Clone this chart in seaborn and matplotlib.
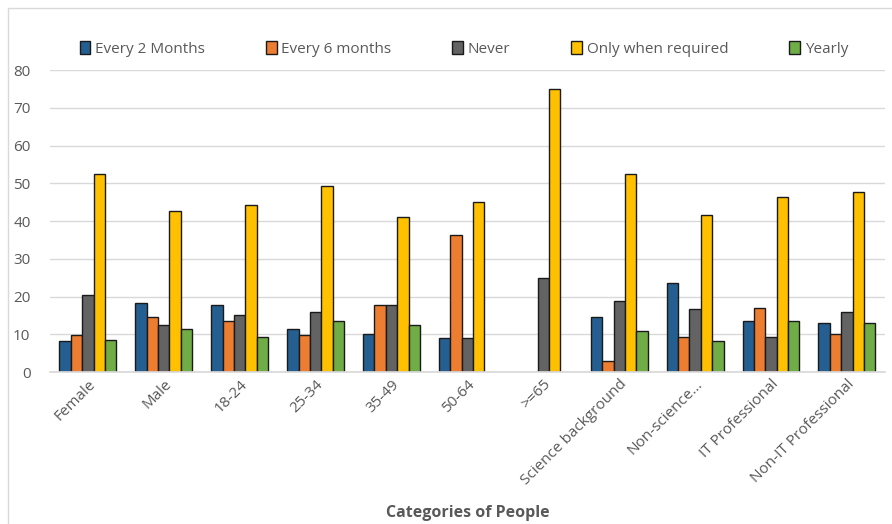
import numpy as np
import pandas as pd
import matplotlib
matplotlib.use("Agg")
import matplotlib.pyplot as plt
import seaborn as sns
from matplotlib.patches import Patch, Rectangle

categories = ["Female", "Male", "18-24", "25-34", "35-49", "50-64", ">=65",
              "Science background", "Non-science...", "IT Professional",
              "Non-IT Professional"]
series_names = ["Every 2 Months", "Every 6 months", "Never",
                "Only when required", "Yearly"]
every_2_months = [8.1, 18.2, 17.9, 11.4, 10.2, 9.0, None, 14.7, 23.6, 13.4, 13.0]
every_6_months = [9.8, 14.6, 13.4, 9.8, 17.9, 36.3, None, 2.8, 9.4, 17.1, 10.2]
never = [20.3, 12.6, 15.1, 15.9, 17.9, 9.0, 25.0, 18.7, 16.6, 9.4, 15.8]
only_when_required = [52.5, 42.8, 44.4, 49.3, 41.0, 45.2, 75.0, 52.6, 41.6, 46.4, 47.6]
yearly = [8.4, 11.4, 9.4, 13.4, 12.6, None, None, 10.9, 8.1, 13.4, 13.0]
y_ticks = [0, 10, 20, 30, 40, 50, 60, 70, 80]

colors = ["#255E91", "#ED7D31", "#636363", "#FFC000", "#70AD47"]

rows = []
for name, vals in zip(series_names,
                      [every_2_months, every_6_months, never, only_when_required, yearly]):
    for c, v in zip(categories, vals):
        rows.append({"Category": c, "Series": name, "Value": v})
df = pd.DataFrame(rows).dropna()

sns.set_theme(style="white")
plt.rcParams["font.family"] = ["Open Sans", "DejaVu Sans"]

fig = plt.figure(figsize=(8.92, 5.24), dpi=100)
ax = fig.add_axes([0.056, 0.29, 0.936, 0.576])

sns.barplot(data=df, x="Category", y="Value", hue="Series",
            order=categories, hue_order=series_names, palette=colors,
            saturation=1, width=0.75, edgecolor="#1a1a1a", linewidth=1.0,
            errorbar=None, ax=ax, legend=False)

ax.set_ylim(0, 80)
ax.set_yticks(y_ticks)
ax.set_xlim(-0.5, len(categories) - 0.5)
ax.yaxis.grid(True, color="#D9D9D9", linewidth=1)
ax.set_axisbelow(True)
for s in ["left", "right", "top"]:
    ax.spines[s].set_visible(False)
ax.spines["bottom"].set_color("#D9D9D9")
ax.tick_params(axis="both", length=0, colors="#595959", labelsize=11)
ax.tick_params(axis="y", pad=14)
plt.setp(ax.get_xticklabels(), rotation=45, ha="right", rotation_mode="anchor")
ax.set_ylabel("")
ax.set_xlabel("Categories of People", fontsize=11.5, fontweight="bold",
              color="#595959")
ax.xaxis.set_label_coords(0.5, -0.44)

handles = [Patch(facecolor=c, edgecolor="#1a1a1a", linewidth=1.0) for c in colors]
fig.legend(handles, series_names, loc="center", ncol=5,
           bbox_to_anchor=(0.52, 0.907), frameon=False, fontsize=11,
           labelcolor="#595959", handlelength=0.7, handleheight=0.9,
           handletextpad=0.3, columnspacing=4.0)

fig.patches.append(Rectangle((0.009, -0.01), 1.0, 0.995, transform=fig.transFigure,
                             fill=False, edgecolor="#D9D9D9", linewidth=1))

fig.savefig("out.png", dpi=100)
